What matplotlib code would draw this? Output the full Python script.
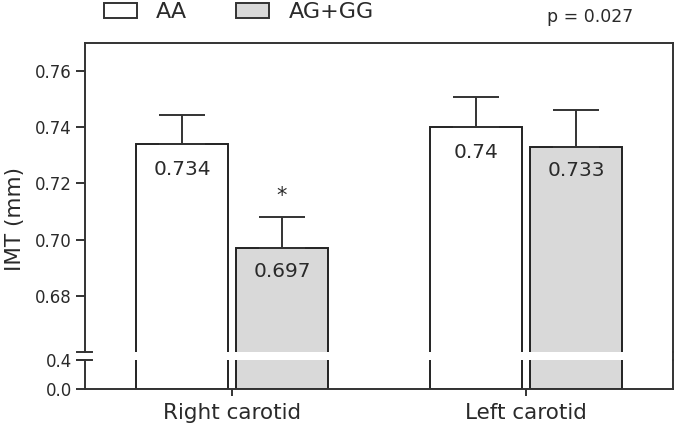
import matplotlib
matplotlib.use("Agg")
import matplotlib.pyplot as plt
from matplotlib.patches import Patch
from matplotlib.lines import Line2D

# ---- data ----
sites = ["Right carotid", "Left carotid"]
groups = ["AA", "AG+GG"]
aa_means = [0.734, 0.740]
aa_errs = [0.0103, 0.0107]
ag_means = [0.697, 0.733]
ag_errs = [0.011, 0.013]
aa_labels = ["0.734", "0.74"]
ag_labels = ["0.697", "0.733"]
upper_ticks = [0.68, 0.70, 0.72, 0.74, 0.76]
upper_ticklabels = ["0.68", "0.70", "0.72", "0.74", "0.76"]
lower_ticks = [0.0, 0.4]
lower_ticklabels = ["0.0", "0.4"]
p_text = "p = 0.027"

W, H = 679, 429
fig = plt.figure(figsize=(W / 100, H / 100), dpi=100)
plt.rcParams["font.family"] = ["DejaVu Sans"]

def fx(px):
    return px / W

def fy(py):
    return 1 - py / H

L, R = 85, 673
top_px, brk_hi, brk_lo, bot_px = 43, 352, 360, 389

ax_top = fig.add_axes([fx(L), fy(brk_hi), fx(R) - fx(L), fy(top_px) - fy(brk_hi)])
ax_bot = fig.add_axes([fx(L), fy(bot_px), fx(R) - fx(L), fy(brk_lo) - fy(bot_px)])

spine_c = "#333333"
text_c = "#2a2a2a"
fill_gray = "#d9d9d9"
lw = 1.4

x = [0, 1]
off = 0.17
bw = 0.31
xa = [xi - off for xi in x]
xg = [xi + off for xi in x]

for ax in (ax_top, ax_bot):
    ax.bar(xa, aa_means, width=bw, color="white", edgecolor="#222222", linewidth=lw, zorder=2)
    ax.bar(xg, ag_means, width=bw, color=fill_gray, edgecolor="#222222", linewidth=lw, zorder=2)
    ax.set_xlim(-0.5, 1.5)
    for s in ax.spines.values():
        s.set_color(spine_c)
        s.set_linewidth(lw)
    ax.tick_params(axis="both", colors=spine_c, labelcolor=text_c, width=lw)

# error bars (upper only)
ax_top.errorbar(xa, aa_means, yerr=[[0, 0], aa_errs], fmt="none", ecolor="#333333",
                elinewidth=1.4, capsize=16.5, capthick=1.4, zorder=3)
ax_top.errorbar(xg, ag_means, yerr=[[0, 0], ag_errs], fmt="none", ecolor="#333333",
                elinewidth=1.4, capsize=16.5, capthick=1.4, zorder=3)

# value labels
for xi, v, lab in zip(xa, aa_means, aa_labels):
    ax_top.annotate(lab, (xi, v), xytext=(0, -18), textcoords="offset points",
                    ha="center", va="center", fontsize=14.5, color=text_c, zorder=4)
for xi, v, lab in zip(xg, ag_means, ag_labels):
    ax_top.annotate(lab, (xi, v), xytext=(0, -17), textcoords="offset points",
                    ha="center", va="center", fontsize=14.5, color=text_c, zorder=4)

# significance star
ax_top.annotate("*", (xg[0], ag_means[0] + ag_errs[0]), xytext=(0, 15), textcoords="offset points",
                ha="center", va="center", fontsize=15, color=text_c)

# upper axes
ax_top.set_ylim(0.66, 0.77)
ax_top.set_yticks(upper_ticks)
ax_top.set_yticklabels(upper_ticklabels, fontsize=12)
ax_top.tick_params(axis="y", length=6.5, pad=3)
ax_top.set_xticks([])
ax_top.spines["bottom"].set_visible(False)

# lower axes
ax_bot.set_ylim(0, 0.4)
ax_bot.set_yticks(lower_ticks)
ax_bot.set_yticklabels(lower_ticklabels, fontsize=12)
ax_bot.tick_params(axis="y", length=6.5, pad=3)
ax_bot.set_xticks(x)
ax_bot.set_xticklabels(sites, fontsize=15.5)
ax_bot.tick_params(axis="x", length=5, pad=5)
ax_bot.spines["top"].set_visible(False)

# break marks on left spine and continuous right spine
for py in (brk_hi, brk_lo):
    fig.add_artist(Line2D([fx(L - 8), fx(L + 7)], [fy(py), fy(py)], transform=fig.transFigure,
                          color=spine_c, linewidth=lw))
fig.add_artist(Line2D([fx(R), fx(R)], [fy(brk_hi), fy(brk_lo)], transform=fig.transFigure,
                      color=spine_c, linewidth=lw))

# y label
fig.text(fx(15), fy(219), "IMT (mm)", rotation=90, ha="center", va="center",
         fontsize=15.5, color=text_c)

# legend
handles = [Patch(facecolor="white", edgecolor="#333333", linewidth=1.4),
           Patch(facecolor=fill_gray, edgecolor="#333333", linewidth=1.4)]
fig.legend(handles, groups, loc="center left", bbox_to_anchor=(fx(106 - 2), fy(12)),
           ncol=2, frameon=False, fontsize=16, handlelength=1.49, handleheight=0.68,
           handletextpad=0.86, columnspacing=2.2, borderpad=0, borderaxespad=0,
           labelcolor=text_c)

fig.text(fx(590), fy(17), p_text, ha="center", va="center", fontsize=12.5, color=text_c)

fig.savefig("out.png", dpi=100)
